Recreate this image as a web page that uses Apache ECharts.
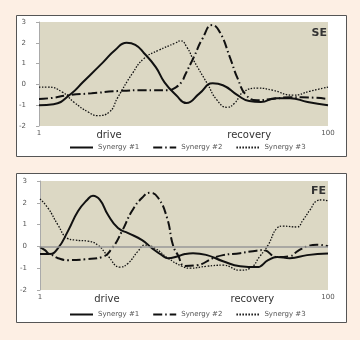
<!DOCTYPE html>
<html><head><meta charset="utf-8">
<script src="https://cdn.jsdelivr.net/npm/echarts@6/dist/echarts.min.js"></script>
<style>html,body{margin:0;padding:0;background:#fdefe4;}#c{width:360px;height:340px;}</style>
</head><body><div id="c"></div>
<script>
// ---- data ----
var yTicks = ['3', '2', '1', '0', '-1', '-2'];
var xTickLabels = ['1', '100'];
var phaseLabels = ['drive', 'recovery'];
var seriesNames = ['Synergy #1', 'Synergy #2', 'Synergy #3'];
var panelTitles = ['SE', 'FE'];

// SE panel
var seS1x = [1, 6, 12, 16, 23, 27, 31, 34, 37, 41, 44, 48, 51.5, 56, 60.5, 64, 69, 73, 77, 82, 87, 93, 100];
var seS1y = [-1.0, -0.95, -0.45, 0.1, 1.07, 1.64, 2.0, 1.9, 1.5, 0.83, 0.1, -0.52, -0.9, -0.43, 0.05, -0.04, -0.52, -0.8, -0.85, -0.66, -0.66, -0.85, -1.0];
var seS2x = [1, 5.5, 11, 19, 28, 37, 45, 48, 50, 51, 54, 57, 60.3, 63, 66.4, 69, 72, 75.7, 81, 87, 91, 100];
var seS2y = [-0.7, -0.65, -0.52, -0.43, -0.32, -0.28, -0.28, -0.13, 0.15, 0.44, 1.3, 2.2, 2.85, 2.5, 1.3, 0.3, -0.52, -0.76, -0.7, -0.62, -0.62, -0.7];
var seS3x = [1, 4, 9, 13, 18, 21, 25, 28, 33, 37, 42, 47.6, 49.5, 51.7, 54, 58.6, 62, 65.4, 68, 71, 76, 81, 88, 94, 100];
var seS3y = [-0.13, -0.13, -0.37, -0.86, -1.34, -1.5, -1.34, -0.62, 0.53, 1.25, 1.64, 1.98, 2.1, 1.78, 1.15, 0.05, -0.76, -1.1, -0.9, -0.37, -0.18, -0.28, -0.52, -0.32, -0.13];

// FE panel
var feS1x = [1, 2.7, 4.4, 7.2, 10.6, 14.1, 17.2, 19.2, 21.6, 24.4, 27.8, 31.3, 36.1, 39.5, 42.9, 45, 48.4, 50.8, 53.6, 58.4, 63.9, 69.8, 75.6, 79.4, 82.5, 86.9, 92.8, 100];
var feS1y = [-0.03, -0.17, -0.35, -0.08, 0.7, 1.62, 2.13, 2.32, 2.13, 1.44, 0.84, 0.61, 0.29, -0.08, -0.4, -0.54, -0.45, -0.35, -0.31, -0.4, -0.68, -0.91, -0.95, -0.63, -0.49, -0.54, -0.4, -0.33];
var feS2x = [1, 3.75, 7.2, 10.6, 16.5, 22.3, 25.8, 29.2, 32.6, 36.1, 38.8, 41.6, 44.7, 46.7, 48.4, 50.8, 55, 60.5, 63.9, 69.8, 74.2, 77.7, 82.5, 86.9, 89.7, 92.8, 96.2, 100];
var feS2y = [-0.35, -0.35, -0.54, -0.63, -0.59, -0.49, -0.08, 0.7, 1.62, 2.23, 2.46, 2.23, 1.3, 0.06, -0.4, -0.9, -0.86, -0.54, -0.4, -0.31, -0.22, -0.17, -0.49, -0.45, -0.2, 0.0, 0.08, 0.0];
var feS3x = [1, 3.75, 7.2, 10.3, 13, 17.5, 20.9, 24.4, 28.5, 31.3, 34.7, 37.1, 40.5, 45, 49.8, 52.6, 58.4, 63.9, 69.8, 73.2, 76.6, 79.4, 82.5, 84.5, 89.3, 91.4, 93.8, 96.2, 97.9, 100];
var feS3y = [2.18, 1.76, 0.98, 0.38, 0.29, 0.24, 0.06, -0.45, -0.95, -0.77, -0.22, 0.06, -0.08, -0.54, -0.91, -1.0, -0.91, -0.86, -1.09, -1.0, -0.45, 0.06, 0.84, 0.93, 0.89, 1.21, 1.67, 2.09, 2.13, 2.09];

// label positions along the x axis (phase words)
var sePhasePos = [25, 73];
var fePhasePos = [24, 74];

// ---- build ----
function zip(xs, ys) { return xs.map(function (x, i) { return [x, ys[i]]; }); }
var styles = [
  { type: 'solid', width: 2 },
  { type: [9, 3, 1.5, 3], width: 2 },
  { type: [1.5, 1.5], width: 1.3 }
];
var fontFam = 'DejaVu Sans, sans-serif';

function xAxisFor(gi, phasePos) {
  var map = {};
  map[1] = '{t|' + xTickLabels[0] + '}';
  map[100] = '{t|' + xTickLabels[1] + '}';
  map[phasePos[0]] = '{w|' + phaseLabels[0] + '}';
  map[phasePos[1]] = '{w|' + phaseLabels[1] + '}';
  return {
    type: 'value', gridIndex: gi, min: 1, max: 100,
    axisLine: { show: false }, axisTick: { show: false }, splitLine: { show: false },
    axisLabel: {
      customValues: [1, phasePos[0], phasePos[1], 100],
      margin: 4,
      fontFamily: fontFam,
      formatter: function (v) { return map[v] || ''; },
      rich: {
        t: { fontSize: 7, color: '#555', fontFamily: fontFam },
        w: { fontSize: 10, color: '#333', fontFamily: fontFam }
      }
    }
  };
}
function yAxisFor(gi) {
  return {
    type: 'value', gridIndex: gi, min: -2, max: 3, interval: 1,
    axisLine: { show: true, lineStyle: { color: '#aaa', width: 1 } },
    axisTick: { show: true, length: 3, lineStyle: { color: '#aaa' } },
    splitLine: { show: false },
    axisLabel: { margin: 13, fontSize: 7, color: '#555', fontFamily: fontFam,
      formatter: function (v) { var idx = 3 - v; return yTicks[idx] !== undefined ? yTicks[idx] : ''; } }
  };
}

var panels = [
  [zip(seS1x, seS1y), zip(seS2x, seS2y), zip(seS3x, seS3y)],
  [zip(feS1x, feS1y), zip(feS2x, feS2y), zip(feS3x, feS3y)]
];
var series = [];
panels.forEach(function (p, gi) {
  p.forEach(function (d, si) {
    var s = {
      type: 'line', name: seriesNames[si], xAxisIndex: gi, yAxisIndex: gi,
      data: d, smooth: 0.5, symbol: 'none', silent: true, animation: false,
      itemStyle: { color: '#111' },
      lineStyle: { color: '#111', type: styles[si].type, width: styles[si].width }
    };
    if (gi === 1 && si === 0) {
      s.markLine = { silent: true, symbol: 'none', label: { show: false },
        lineStyle: { color: '#999', type: 'solid', width: 1.5 }, data: [{ yAxis: 0 }] };
    }
    series.push(s);
  });
});

function legendFor(top) {
  return {
    top: top, left: 64, itemWidth: 23, itemHeight: 8, itemGap: 13, selectedMode: false,
    itemStyle: { opacity: 0 },
    textStyle: { fontSize: 7, color: '#555', fontFamily: fontFam },
    data: seriesNames.slice()
  };
}

var chart = echarts.init(document.getElementById('c'), null, { renderer: 'canvas' });
chart.setOption({
  animation: false,
  backgroundColor: '#fdefe4',
  graphic: [
    { type: 'rect', z: -10, shape: { x: 16.5, y: 15.5, width: 330, height: 141 }, style: { fill: '#fff', stroke: '#555', lineWidth: 1 } },
    { type: 'rect', z: -10, shape: { x: 16.5, y: 173.5, width: 330, height: 149 }, style: { fill: '#fff', stroke: '#555', lineWidth: 1 } },
    { type: 'text', right: 33, top: 28, style: { text: panelTitles[0], font: 'bold 11px ' + fontFam, fill: '#333' } },
    { type: 'text', right: 34, top: 186, style: { text: panelTitles[1], font: 'bold 11px ' + fontFam, fill: '#333' } }
  ],
  grid: [
    { left: 39, top: 22, width: 289, height: 104, show: true, backgroundColor: '#dcd8c4', borderWidth: 0 },
    { left: 40, top: 181, width: 288, height: 109, show: true, backgroundColor: '#dcd8c4', borderWidth: 0 }
  ],
  xAxis: [xAxisFor(0, sePhasePos), xAxisFor(1, fePhasePos)],
  yAxis: [yAxisFor(0), yAxisFor(1)],
  legend: [legendFor(139), legendFor(306)],
  series: series
});
</script></body></html>
